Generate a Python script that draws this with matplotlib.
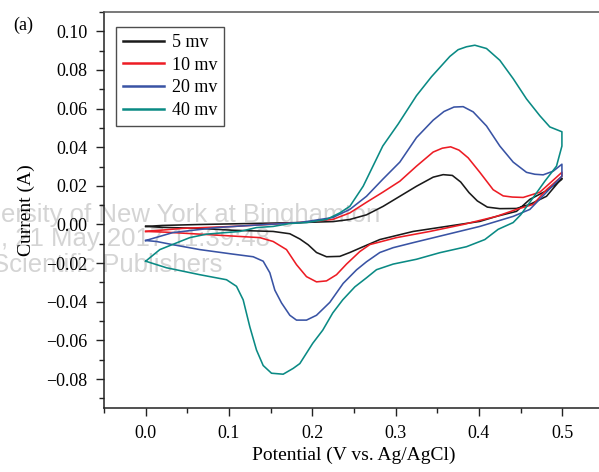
import matplotlib
matplotlib.use("Agg")
import matplotlib.pyplot as plt
from matplotlib.ticker import MultipleLocator, FuncFormatter
import numpy as np

# ---------------- data ----------------
labels = ["5 mv", "10 mv", "20 mv", "40 mv"]
colors = ["#1a1a1a", "#ed1c24", "#3953a4", "#0a8a84"]

# 5 mV: forward (anodic) sweep 0 -> 0.5 V, reverse (cathodic) sweep 0.5 -> 0 V
v5_fwd = [0.0, 0.02, 0.065, 0.125, 0.185, 0.225, 0.245, 0.265, 0.285, 0.305, 0.325, 0.345,
          0.357, 0.368, 0.378, 0.388, 0.398, 0.41, 0.425, 0.445, 0.461, 0.481, 0.4995]
i5_fwd = [-0.001, -0.0005, 0.0, 0.0005, 0.001, 0.0015, 0.0026, 0.005, 0.0094, 0.0146, 0.0198, 0.0245,
          0.0258, 0.0254, 0.022, 0.0165, 0.0122, 0.009, 0.0082, 0.0083, 0.0104, 0.0146, 0.0240]
v5_rev = [0.4995, 0.481, 0.461, 0.445, 0.421, 0.401, 0.361, 0.321, 0.281, 0.261, 0.245, 0.233,
          0.217, 0.205, 0.195, 0.185, 0.173, 0.153, 0.105, 0.065, 0.02, 0.0]
i5_rev = [0.0234, 0.0175, 0.013, 0.0068, 0.0042, 0.0016, -0.001, -0.0036, -0.0078, -0.0115, -0.0145, -0.0165,
          -0.0167, -0.0145, -0.0105, -0.0075, -0.0048, -0.0036, -0.003, -0.002, -0.0015, -0.001]

# 10 mV
v10_fwd = [0.0, 0.045, 0.105, 0.145, 0.185, 0.2245, 0.245, 0.265, 0.2845, 0.305, 0.325, 0.345,
           0.356, 0.366, 0.376, 0.387, 0.401, 0.417, 0.429, 0.44, 0.453, 0.473, 0.4995]
i10_fwd = [-0.0036, -0.002, -0.001, 0.0, 0.001, 0.0026, 0.006, 0.0115, 0.0167, 0.0224, 0.0302, 0.0375,
           0.0395, 0.0402, 0.0385, 0.0345, 0.027, 0.018, 0.0148, 0.0142, 0.014, 0.0167, 0.027]
v10_rev = [0.4995, 0.481, 0.465, 0.445, 0.421, 0.381, 0.341, 0.301, 0.269, 0.257, 0.241, 0.229,
           0.217, 0.205, 0.193, 0.181, 0.169, 0.153, 0.137, 0.113, 0.065, 0.025, 0.0]
i10_rev = [0.025, 0.018, 0.0104, 0.0078, 0.0042, 0.0, -0.0036, -0.0068, -0.0104, -0.014, -0.0205, -0.026,
           -0.0292, -0.0297, -0.027, -0.0208, -0.013, -0.0088, -0.0068, -0.0062, -0.005, -0.004, -0.0036]

# 20 mV
v20_fwd = [0.0, 0.0325, 0.085, 0.125, 0.165, 0.185, 0.2245, 0.245, 0.265, 0.2845, 0.305, 0.325,
           0.345, 0.358, 0.37, 0.381, 0.393, 0.409, 0.425, 0.441, 0.457, 0.467, 0.477, 0.489, 0.4995]
i20_fwd = [-0.0083, -0.0042, -0.0016, -0.0005, 0.0005, 0.001, 0.0036, 0.0078, 0.0146, 0.0234, 0.0323, 0.045,
           0.054, 0.0585, 0.0608, 0.061, 0.0583, 0.051, 0.0406, 0.0323, 0.027, 0.026, 0.0257, 0.0276, 0.0312]
v20_rev = [0.4995, 0.481, 0.461, 0.441, 0.401, 0.361, 0.321, 0.297, 0.281, 0.265, 0.253, 0.237,
           0.221, 0.205, 0.193, 0.181, 0.173, 0.163, 0.155, 0.149, 0.141, 0.129, 0.104, 0.065,
           0.032, 0.013, 0.0]
i20_rev = [0.025, 0.0167, 0.0078, 0.0042, -0.001, -0.0052, -0.0094, -0.012, -0.0145, -0.0193, -0.0235, -0.0305,
           -0.0403, -0.047, -0.0495, -0.0495, -0.047, -0.0406, -0.034, -0.025, -0.019, -0.0167, -0.0153, -0.013,
           -0.0104, -0.0088, -0.0083]

# 40 mV
v40_fwd = [0.0, 0.017, 0.032, 0.053, 0.073, 0.093, 0.113, 0.133, 0.153, 0.173, 0.193, 0.217,
           0.233, 0.245, 0.261, 0.2845, 0.303, 0.325, 0.343, 0.365, 0.375, 0.385, 0.395, 0.409, 0.425,
           0.441, 0.457, 0.473, 0.485, 0.4995]
i40_fwd = [-0.019, -0.013, -0.0104, -0.0068, -0.005, -0.0043, -0.0036, -0.0016, -0.001, 0.0005, 0.001, 0.0026,
           0.006, 0.0094, 0.0198, 0.0406, 0.052, 0.0667, 0.0765, 0.087, 0.0905, 0.092, 0.0928, 0.0911, 0.085,
           0.0755, 0.065, 0.0563, 0.0505, 0.048]
v40_rev = [0.4995, 0.4995, 0.493, 0.479, 0.461, 0.45, 0.441, 0.423, 0.407, 0.385, 0.353, 0.325, 0.297,
           0.277, 0.265, 0.251, 0.2365, 0.2245, 0.2125, 0.2005, 0.185, 0.177, 0.165, 0.151, 0.141,
           0.133, 0.125, 0.117, 0.109, 0.097, 0.065, 0.025, 0.0]
i40_rev = [0.048, 0.0406, 0.0302, 0.0224, 0.0115, 0.005, 0.001, -0.0025, -0.0078, -0.0115, -0.0146, -0.018, -0.0205,
           -0.0234, -0.0276, -0.0323, -0.039, -0.0458, -0.0547, -0.0615, -0.072, -0.0745, -0.0775, -0.077, -0.073,
           -0.065, -0.053, -0.039, -0.032, -0.0286, -0.026, -0.0224, -0.019]

x_ticks = [0.0, 0.1, 0.2, 0.3, 0.4, 0.5]
y_ticks = [-0.08, -0.06, -0.04, -0.02, 0.00, 0.02, 0.04, 0.06, 0.08, 0.10]

loops = [(v5_fwd, i5_fwd, v5_rev, i5_rev),
         (v10_fwd, i10_fwd, v10_rev, i10_rev),
         (v20_fwd, i20_fwd, v20_rev, i20_rev),
         (v40_fwd, i40_fwd, v40_rev, i40_rev)]

# ---------------- figure ----------------
plt.rcParams["font.family"] = ["Liberation Serif", "DejaVu Serif"]
plt.rcParams["axes.unicode_minus"] = True

W, H = 599, 472
fig = plt.figure(figsize=(W / 100, H / 100), dpi=100)
ax_left, ax_right = 104, 604
ax_top, ax_bot = 12, 408
ax = fig.add_axes([ax_left / W, 1 - ax_bot / H, (ax_right - ax_left) / W, (ax_bot - ax_top) / H])
ax.patch.set_alpha(0)

# faint publisher watermark behind the plot
wm_kw = dict(family=["Liberation Sans", "DejaVu Sans"], fontsize=18.5, color="#d4d4d4",
             ha="left", va="baseline", zorder=-5)
fig.text(1 / W, 1 - 222 / H, "ersity of New York at Binghamton", **wm_kw)
fig.text(1 / W, 1 - 246 / H, ", 21 May 2017 11:39:48", **wm_kw)
fig.text(-8 / W, 1 - 272 / H, "Scientific Publishers", **wm_kw)

for (vf, jf, vr, jr), c, lab in zip(loops, colors, labels):
    v = np.concatenate([vf, vr])
    j = np.concatenate([jf, jr])
    ax.plot(v, j, color=c, lw=1.15, label=lab, solid_joinstyle="round")

ax.set_xlim(-0.05, 0.55)
ax.set_ylim(-0.095, 0.11)
ax.set_xticks(x_ticks)
ax.set_yticks(y_ticks)
ax.xaxis.set_minor_locator(MultipleLocator(0.05))
ax.yaxis.set_minor_locator(MultipleLocator(0.01))
ax.xaxis.set_major_formatter(FuncFormatter(lambda v, p: f"{v:.1f}".replace("-", "\u2212")))
ax.yaxis.set_major_formatter(FuncFormatter(
    lambda v, p: ("0.00" if abs(v) < 1e-9 else f"{v:.2f}".replace("-", "\u2212"))))

ax.tick_params(axis="both", which="major", direction="out", length=6, width=1,
               labelsize=13, color="#222222", pad=6)
ax.tick_params(axis="both", which="minor", direction="out", length=3.5, width=1, color="#222222")
ax.tick_params(top=False, right=False)

for s in ["left", "bottom"]:
    ax.spines[s].set_color("#222222")
    ax.spines[s].set_linewidth(1.1)
ax.spines["top"].set_color("#555555")
ax.spines["top"].set_linewidth(1.1)
ax.spines["right"].set_visible(False)

ax.set_xlabel("Potential (V vs. Ag/AgCl)", fontsize=14)
ax.set_ylabel("Current (A)", fontsize=14)
ax.xaxis.set_label_coords(0.5, -0.097)
ax.yaxis.set_label_coords(-0.138, 0.5)

fig.text(23 / W, 1 - 25 / H, "(a)", fontsize=13, ha="center", va="center")

leg = ax.legend(loc="upper left", bbox_to_anchor=((116 - ax_left) / 500, 1 - (27 - ax_top) / 396),
                borderaxespad=0, fontsize=13, frameon=True, fancybox=False,
                handlelength=2.3, handletextpad=0.4, labelspacing=0.32, borderpad=0.38)
leg.get_frame().set_edgecolor("#222222")
leg.get_frame().set_linewidth(1.0)
for line in leg.get_lines():
    line.set_linewidth(1.8)

fig.savefig("out.png", dpi=100)
